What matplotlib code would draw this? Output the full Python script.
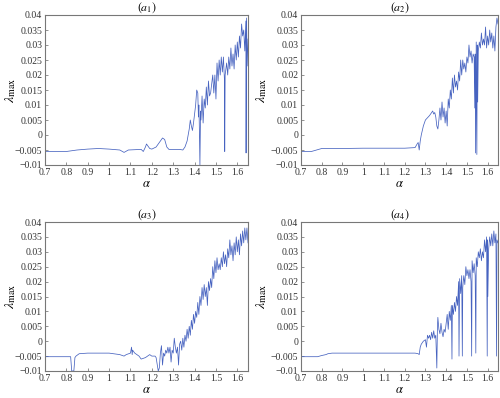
import numpy as np
import matplotlib
matplotlib.use("Agg")
import matplotlib.pyplot as plt

plt.rcParams['font.family'] = ['Liberation Serif', 'DejaVu Serif']
plt.rcParams['mathtext.fontset'] = 'stix'

# (a1)
x1 = [0.7, 0.8, 0.85, 0.9, 0.95, 1.0, 1.05, 1.07, 1.09, 1.15, 1.16, 1.17, 1.175, 1.18, 1.19, 1.2,
      1.22, 1.24, 1.25, 1.26, 1.27, 1.28, 1.33, 1.345, 1.355, 1.365, 1.375, 1.38, 1.385, 1.39, 1.395,
      1.4, 1.405, 1.41, 1.415, 1.418, 1.42, 1.422, 1.425, 1.428, 1.43, 1.435, 1.44, 1.445, 1.45, 1.455,
      1.46, 1.465, 1.47, 1.475, 1.48, 1.485, 1.49, 1.495, 1.5, 1.505, 1.51, 1.515, 1.52, 1.525, 1.53,
      1.535, 1.54, 1.541, 1.543, 1.55, 1.555, 1.56, 1.565, 1.57, 1.575, 1.58, 1.585, 1.59, 1.595, 1.6,
      1.605, 1.61, 1.615, 1.62, 1.625, 1.63, 1.635, 1.64, 1.641, 1.643, 1.646, 1.65]
y1 = [-0.0055, -0.0055, -0.005, -0.0047, -0.0045, -0.0047, -0.005, -0.0058, -0.005, -0.0048, -0.0055,
      -0.004, -0.003, -0.0035, -0.0045, -0.0047, -0.004, -0.002, -0.001, -0.0015, -0.004, -0.0048,
      -0.0048, -0.005, -0.004, -0.002, 0.002, 0.005, 0.003, 0.0015, 0.004, 0.007, 0.01, 0.015, 0.014,
      0.006, 0.01, 0.004, -0.01, 0.008, 0.005, 0.013, 0.004, 0.012, 0.009, 0.016, 0.01, 0.018, 0.013,
      0.014, 0.017, 0.02, 0.014, 0.02, 0.012, 0.024, 0.018, 0.025, 0.02, 0.026, 0.021, 0.026, 0.018,
      -0.0055, 0.02, 0.024, 0.02, 0.026, 0.022, 0.029, 0.023, 0.027, 0.022, 0.03, 0.025, 0.031, 0.026,
      0.033, 0.029, 0.037, 0.033, 0.035, 0.028, 0.038, -0.006, 0.039, 0.023, 0.032]

# (a2)
x2 = [0.7, 0.75, 0.8, 0.9, 1.0, 1.2, 1.25, 1.26, 1.265, 1.27, 1.275, 1.28, 1.29, 1.3, 1.32, 1.335,
      1.34, 1.345, 1.35, 1.355, 1.36, 1.365, 1.37, 1.375, 1.38, 1.385, 1.39, 1.395, 1.4, 1.405, 1.41,
      1.415, 1.42, 1.425, 1.43, 1.435, 1.44, 1.445, 1.45, 1.455, 1.46, 1.465, 1.47, 1.475, 1.48, 1.485,
      1.49, 1.495, 1.5, 1.505, 1.51, 1.515, 1.52, 1.525, 1.53, 1.535, 1.538, 1.54, 1.542, 1.545, 1.548,
      1.55, 1.552, 1.555, 1.56, 1.565, 1.57, 1.575, 1.58, 1.585, 1.59, 1.595, 1.6, 1.605, 1.61, 1.615,
      1.62, 1.625, 1.63, 1.635, 1.64, 1.645, 1.65]
y2 = [-0.0055, -0.0055, -0.0045, -0.0045, -0.0044, -0.0044, -0.0042, -0.003, -0.0025, -0.005, -0.002,
      0.0, 0.003, 0.005, 0.0065, 0.008, 0.007, 0.0075, 0.006, 0.003, 0.002, 0.005, 0.009, 0.005, 0.011,
      0.006, 0.009, 0.004, 0.008, 0.003, 0.012, 0.009, 0.015, 0.012, 0.019, 0.014, 0.02, 0.016, 0.018,
      0.015, 0.021, 0.018, 0.025, 0.02, 0.025, 0.022, 0.024, 0.021, 0.026, 0.024, 0.03, 0.026, 0.028,
      0.024, 0.027, 0.026, 0.009, 0.027, -0.006, 0.031, -0.0065, 0.03, 0.011, 0.028, 0.031, 0.029, 0.034,
      0.03, 0.032, 0.03, 0.036, 0.029, 0.033, 0.03, 0.035, 0.031, 0.034, 0.029, 0.033, 0.028, 0.036,
      0.039, 0.037]

# (a3)
x3 = [0.7, 0.8, 0.82, 0.825, 0.835, 0.84, 0.845, 0.86, 0.9, 1.0, 1.05, 1.07, 1.08, 1.1, 1.105, 1.108,
      1.11, 1.12, 1.14, 1.15, 1.17, 1.19, 1.2, 1.215, 1.22, 1.23, 1.235, 1.24, 1.245, 1.25, 1.255, 1.26,
      1.265, 1.27, 1.275, 1.28, 1.285, 1.29, 1.295, 1.3, 1.305, 1.31, 1.315, 1.32, 1.325, 1.33, 1.335,
      1.34, 1.345, 1.35, 1.355, 1.36, 1.365, 1.37, 1.375, 1.38, 1.385, 1.39, 1.395, 1.4, 1.405, 1.41,
      1.415, 1.42, 1.425, 1.43, 1.435, 1.44, 1.445, 1.45, 1.455, 1.46, 1.465, 1.47, 1.475, 1.48, 1.485,
      1.49, 1.495, 1.5, 1.505, 1.51, 1.515, 1.52, 1.525, 1.53, 1.535, 1.54, 1.545, 1.55, 1.555, 1.56,
      1.565, 1.57, 1.575, 1.58, 1.585, 1.59, 1.595, 1.6, 1.605, 1.61, 1.615, 1.62, 1.625, 1.63, 1.635,
      1.64, 1.645, 1.65]
y3 = [-0.0052, -0.0052, -0.0052, -0.01, -0.01, -0.0055, -0.005, -0.0042, -0.004, -0.004, -0.0045,
      -0.005, -0.0045, -0.004, -0.002, -0.0045, -0.003, -0.004, -0.005, -0.006, -0.0055, -0.0045, -0.005,
      -0.005, -0.0055, -0.01, -0.009, -0.004, -0.0015, -0.008, -0.004, -0.005, -0.003, -0.004, -0.002,
      -0.004, -0.002, -0.007, -0.003, -0.004, 0.001, -0.002, -0.004, -0.002, -0.008, -0.001, 0.0, -0.003,
      0.001, -0.002, 0.002, 0.0, 0.004, 0.001, 0.005, 0.002, 0.007, 0.004, 0.009, 0.006, 0.01, 0.008,
      0.013, 0.009, 0.015, 0.012, 0.018, 0.014, 0.019, 0.015, 0.018, 0.012, 0.02, 0.017, 0.021, 0.018,
      0.025, 0.021, 0.027, 0.023, 0.028, 0.024, 0.026, 0.024, 0.028, 0.025, 0.03, 0.026, 0.029, 0.025,
      0.031, 0.028, 0.034, 0.029, 0.032, 0.027, 0.033, 0.029, 0.035, 0.03, 0.034, 0.029, 0.036, 0.032,
      0.037, 0.033, 0.038, 0.034, 0.038, 0.033]

# (a4)
x4 = [0.7, 0.78, 0.8, 0.82, 0.83, 0.85, 1.0, 1.25, 1.265, 1.27, 1.275, 1.28, 1.29, 1.3, 1.305, 1.31,
      1.315, 1.32, 1.325, 1.33, 1.335, 1.34, 1.345, 1.35, 1.355, 1.358, 1.36, 1.365, 1.37, 1.375, 1.38,
      1.385, 1.39, 1.395, 1.4, 1.405, 1.41, 1.415, 1.42, 1.425, 1.428, 1.43, 1.435, 1.44, 1.445, 1.45,
      1.455, 1.46, 1.462, 1.465, 1.47, 1.475, 1.478, 1.48, 1.485, 1.49, 1.495, 1.5, 1.505, 1.51, 1.515,
      1.52, 1.523, 1.525, 1.53, 1.535, 1.54, 1.543, 1.545, 1.55, 1.555, 1.56, 1.565, 1.57, 1.575, 1.58,
      1.585, 1.59, 1.595, 1.598, 1.6, 1.601, 1.605, 1.61, 1.615, 1.62, 1.625, 1.63, 1.635, 1.64, 1.643,
      1.645, 1.65]
y4 = [-0.0052, -0.0052, -0.0048, -0.0045, -0.0042, -0.004, -0.004, -0.004, -0.0042, -0.0045, -0.002,
      -0.001, 0.0, 0.0005, -0.002, 0.002, 0.001, 0.002, 0.0005, 0.003, 0.001, 0.0035, 0.001, 0.002,
      -0.009, 0.005, 0.008, 0.004, 0.0025, 0.006, 0.003, 0.0015, 0.004, 0.003, 0.006, 0.009, 0.004, 0.01,
      0.007, 0.012, -0.006, 0.012, 0.009, 0.013, 0.01, 0.015, 0.012, 0.02, -0.005, 0.021, 0.016, 0.022,
      -0.005, 0.018, 0.022, 0.019, 0.025, 0.022, 0.024, 0.021, 0.024, 0.02, -0.005, 0.027, 0.023, 0.026,
      0.022, -0.004, 0.028, 0.025, 0.03, 0.028, 0.031, 0.027, 0.03, 0.028, 0.034, 0.03, 0.035, -0.005,
      0.034, 0.015, 0.031, 0.035, 0.032, 0.036, 0.032, 0.037, 0.033, 0.036, -0.005, 0.034, 0.033]

series = [(x1, y1, '$(a_1)$'), (x2, y2, '$(a_2)$'), (x3, y3, '$(a_3)$'), (x4, y4, '$(a_4)$')]

xticks = [0.7, 0.8, 0.9, 1.0, 1.1, 1.2, 1.3, 1.4, 1.5, 1.6]
xlabels = ['0.7', '0.8', '0.9', '1', '1.1', '1.2', '1.3', '1.4', '1.5', '1.6']
yticks = [-0.01, -0.005, 0, 0.005, 0.01, 0.015, 0.02, 0.025, 0.03, 0.035, 0.04]
ylabels = ['\u22120.01', '\u22120.005', '0', '0.005', '0.01', '0.015', '0.02', '0.025', '0.03', '0.035', '0.04']

fig = plt.figure(figsize=(5, 3.98), dpi=100)
# axes boxes in pixel coords (left, top, right, bottom), and x centre of the y label
boxes = [(45, 15, 248, 165, 11), (301, 15, 498, 165, 262),
         (45, 222, 248, 371, 11), (301, 222, 498, 371, 262)]
W, H = 500, 398

for (xs, ys, title), (l, t, r, b, lx) in zip(series, boxes):
    ax = fig.add_axes([l / W, 1 - b / H, (r - l) / W, (b - t) / H])
    ax.plot(xs, ys, color='#4763c0', lw=0.55)
    ax.set_xlim(0.7, 1.65)
    ax.set_ylim(-0.01, 0.04)
    ax.set_xticks(xticks)
    ax.set_xticklabels(xlabels)
    ax.set_yticks(yticks)
    ax.set_yticklabels(ylabels)
    ax.tick_params(direction='in', length=2.5, width=0.5, labelsize=7, pad=2,
                   color='#666666', labelcolor='#333333')
    for s in ax.spines.values():
        s.set_color('#777777')
        s.set_linewidth(0.8)
    ax.set_title(title, fontsize=8.5, pad=3)
    ax.set_xlabel(r'$\alpha$', fontsize=9, labelpad=1)
    ax.set_ylabel(r'$\lambda_{\max}$', fontsize=10, va='center')
    ax.yaxis.set_label_coords((lx - l) / (r - l), 0.5)

fig.savefig('out.png', dpi=100)
